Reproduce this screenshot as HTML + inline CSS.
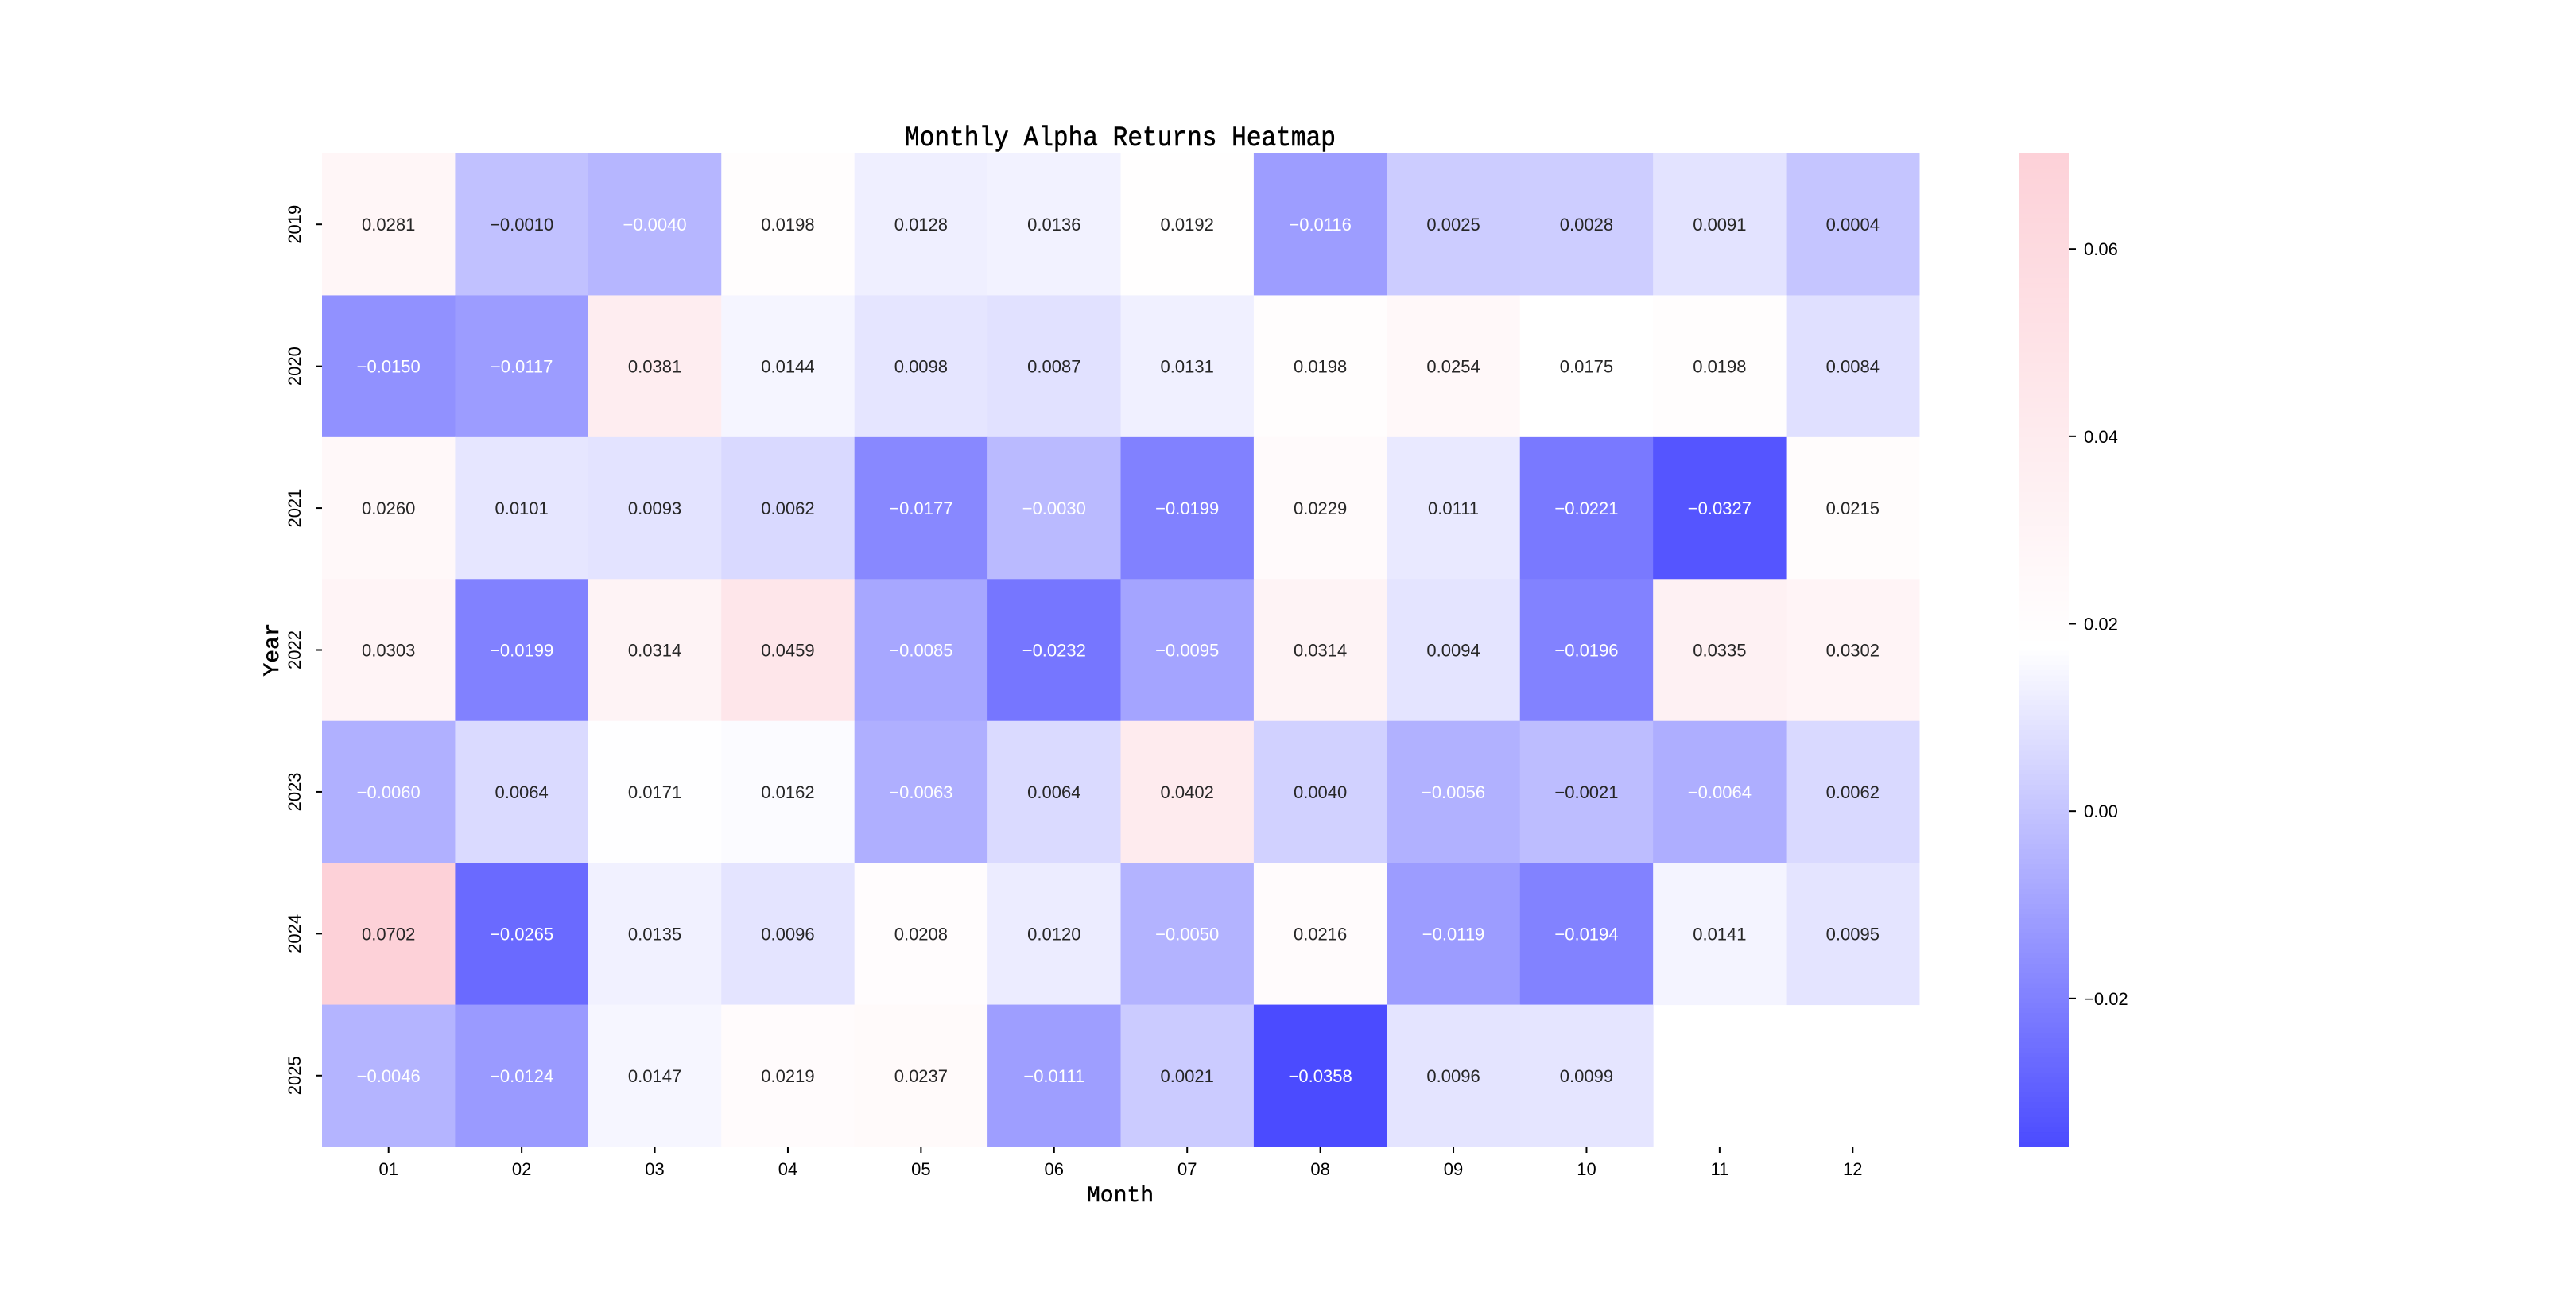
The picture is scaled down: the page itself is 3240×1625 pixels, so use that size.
<!DOCTYPE html>
<html><head><meta charset="utf-8"><style>
html,body{margin:0;padding:0;background:#fff;}
svg text{font-family:"Liberation Sans","Noto Sans CJK SC",sans-serif;}
</style></head><body>
<svg id="chart" width="3240" height="1620" viewBox="0 0 3240 1620" xmlns="http://www.w3.org/2000/svg">
<text x="1409" y="183" text-anchor="middle" font-size="35" textLength="542" lengthAdjust="spacingAndGlyphs" stroke="#000" stroke-width="0.6" style="font-family:'Liberation Mono',monospace">Monthly Alpha Returns Heatmap</text>
<g id="cells"></g>
<g id="axes"></g>
<g id="cbar"></g>
<text x="1409" y="1511" text-anchor="middle" font-size="28" stroke="#000" stroke-width="0.5" style="font-family:'Liberation Mono',monospace">Month</text>
<text transform="translate(350,817) rotate(-90)" text-anchor="middle" font-size="28" stroke="#000" stroke-width="0.5" style="font-family:'Liberation Mono',monospace">Year</text>
</svg>
<script>
const months = ["01","02","03","04","05","06","07","08","09","10","11","12"];
const years = ["2019","2020","2021","2022","2023","2024","2025"];
const row2019 = [0.0281,-0.0010,-0.0040,0.0198,0.0128,0.0136,0.0192,-0.0116,0.0025,0.0028,0.0091,0.0004];
const row2020 = [-0.0150,-0.0117,0.0381,0.0144,0.0098,0.0087,0.0131,0.0198,0.0254,0.0175,0.0198,0.0084];
const row2021 = [0.0260,0.0101,0.0093,0.0062,-0.0177,-0.0030,-0.0199,0.0229,0.0111,-0.0221,-0.0327,0.0215];
const row2022 = [0.0303,-0.0199,0.0314,0.0459,-0.0085,-0.0232,-0.0095,0.0314,0.0094,-0.0196,0.0335,0.0302];
const row2023 = [-0.0060,0.0064,0.0171,0.0162,-0.0063,0.0064,0.0402,0.0040,-0.0056,-0.0021,-0.0064,0.0062];
const row2024 = [0.0702,-0.0265,0.0135,0.0096,0.0208,0.0120,-0.0050,0.0216,-0.0119,-0.0194,0.0141,0.0095];
const row2025 = [-0.0046,-0.0124,0.0147,0.0219,0.0237,-0.0111,0.0021,-0.0358,0.0096,0.0099,null,null];
const cbTicks = [-0.02,0.00,0.02,0.04,0.06];
const cbTickLabels = ["\u22120.02","0.00","0.02","0.04","0.06"];

const rows = [row2019,row2020,row2021,row2022,row2023,row2024,row2025];
const NS = "http://www.w3.org/2000/svg";
const L=405,R=2414,T=193,B=1442;
const cw=(R-L)/months.length, rh=(B-T)/years.length;
const all = rows.flat().filter(v=>v!==null);
const vmin=Math.min(...all), vmax=Math.max(...all), center=0.0175;
function color(v){
  let c;
  if(v<center){const a=Math.min(1,(center-v)/(center-vmin)); c=[255-180*a,255-180*a,255];}
  else{const a=Math.min(1,(v-center)/(vmax-center)); c=[255-2*a,255-46*a,255-39*a];}
  return "rgb("+c.map(x=>Math.round(x)).join(",")+")";
}
function mk(tag,attrs,parent){const e=document.createElementNS(NS,tag);for(const k in attrs)e.setAttribute(k,attrs[k]);parent.appendChild(e);return e;}
const xPos=i=>L+i*cw, yPos=j=>T+j*rh;
const cells=document.getElementById('cells');
rows.forEach((row,j)=>row.forEach((v,i)=>{
  if(v===null)return;
  const rc=mk('rect',{x:xPos(i),y:yPos(j),width:cw+0.5,height:rh+0.5,fill:color(v)},cells);
  
  
  const tx=mk('text',{x:xPos(i)+cw/2,y:yPos(j)+rh/2+8,'text-anchor':'middle','font-size':'22',fill:(v< -0.0025)?'#ffffff':'#262626'},cells);
  
  
  tx.textContent=(v<0?"\u2212":"")+Math.abs(v).toFixed(4);
}));
const axes=document.getElementById('axes');
months.forEach((m,i)=>{
  const x=xPos(i)+cw/2;
  mk('line',{x1:x,y1:B,x2:x,y2:B+8,stroke:'#000','stroke-width':2},axes);
  const t=mk('text',{x:x,y:B+36,'text-anchor':'middle','font-size':'22'},axes);
  
  
  t.textContent=m;
});
years.forEach((yv,j)=>{
  const y=yPos(j)+rh/2;
  mk('line',{x1:L-8,y1:y,x2:L,y2:y,stroke:'#000','stroke-width':2},axes);
  const t=mk('text',{transform:'translate(378,'+y+') rotate(-90)','text-anchor':'middle','font-size':'22'},axes);
  
  
  t.textContent=yv;
});
const CL=2539,CR=2602;
const cb=document.getElementById('cbar');
const cy=v=>B-(v-vmin)/(vmax-vmin)*(B-T);
const N=200;
for(let k=0;k<N;k++){
  const v0=vmin+(vmax-vmin)*k/N, v1=vmin+(vmax-vmin)*(k+1)/N;
  mk('rect',{x:CL,y:cy(v1),width:CR-CL,height:cy(v0)-cy(v1)+0.8,fill:color((v0+v1)/2)},cb);
}
cbTicks.forEach((v,k)=>{
  const y=cy(v);
  mk('line',{x1:CR,y1:y,x2:CR+9,y2:y,stroke:'#000','stroke-width':2},cb);
  const t=mk('text',{x:CR+19,y:y+8,'font-size':'22'},cb);
  
  
  t.textContent=cbTickLabels[k];
});
</script>
</body></html>
